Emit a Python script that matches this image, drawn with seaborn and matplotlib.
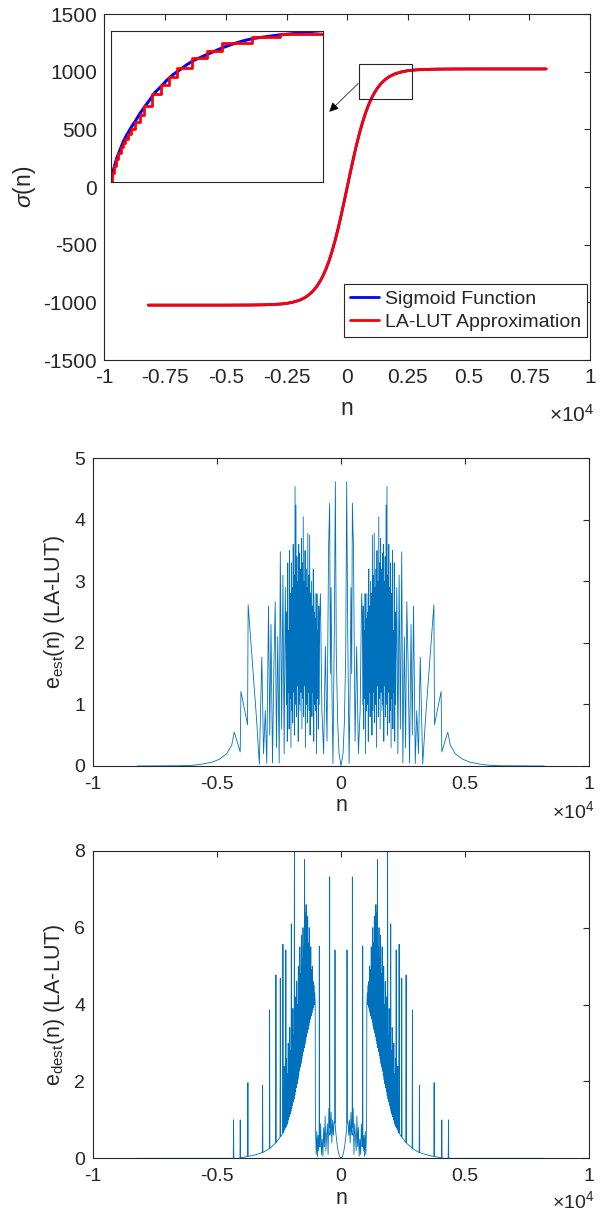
import numpy as np
import matplotlib
matplotlib.use("Agg")
import matplotlib.pyplot as plt
import matplotlib.patches as patches
from matplotlib.ticker import FuncFormatter
import seaborn as sns

# ---- panel 1: sigmoid and LA-LUT approximation ----
sig_n = [-8192, -6000, -5000, -4000, -3500, -3000, -2750, -2500, -2250, -2000,
         -1875, -1750, -1625, -1500, -1375, -1250, -1125, -1000, -875, -750,
         -625, -500, -375, -250, -125, 0, 125, 250, 375, 500, 625, 750, 875,
         1000, 1125, 1250, 1375, 1500, 1625, 1750, 1875, 2000, 2250, 2500,
         2750, 3000, 3500, 4000, 5000, 6000, 8192]
sig_v = [-1024, -1024, -1024, -1023, -1022, -1018, -1015, -1009, -999, -984,
         -973, -959, -942, -920, -893, -860, -819, -770, -710, -640,
         -557, -464, -359, -245, -124, 0, 124, 245, 359, 464, 557, 640, 710,
         770, 819, 860, 893, 920, 942, 959, 973, 984, 999, 1009,
         1015, 1018, 1022, 1023, 1024, 1024, 1024]
lut_v = [-1024, -1024, -1024, -1023, -1021, -1017, -1014, -1009, -999, -984,
         -973, -959, -942, -920, -893, -860, -819, -770, -710, -640,
         -557, -464, -359, -245, -124, 0, 124, 245, 359, 464, 557, 640, 710,
         770, 819, 860, 893, 920, 942, 959, 973, 984, 999, 1009,
         1014, 1017, 1021, 1023, 1024, 1024, 1024]

# inset: close-up of the upper knee
ins_n = [1000, 1031, 1071, 1110, 1149, 1189, 1248, 1299, 1346, 1405, 1464, 1523,
         1582, 1660, 1739, 1818, 1896, 1975, 2054, 2132, 2230, 2329, 2447, 2565,
         2682, 2840, 2997, 3154, 3311, 3500]
ins_sig = [770, 789, 809, 823, 837, 848, 862, 873, 884, 896, 907, 919,
           927, 939, 949, 957, 965, 972, 977, 982, 988, 994, 1000, 1005,
           1009, 1012, 1015, 1017, 1020, 1022]
ins_lut_n = [1000, 1018, 1040, 1063, 1090, 1118, 1145, 1169, 1200, 1236, 1287,
             1340, 1397, 1491, 1590, 1688, 1782, 1959, 2132, 2309, 2663, 2997, 3500]
ins_lut_v = [770, 784, 796, 808, 818, 827, 835, 842, 849, 858, 870,
             882, 896, 916, 931, 944, 959, 976, 988, 1002, 1012, 1017, 1017]

zoom_box_n = [496, 2679]
zoom_box_v = [760, 1064]
arrow_from = [455, 899]
arrow_to = [-739, 653]

# ---- panel 2: e_est, left half (the error is symmetric about n = 0) ----
est_tail_n = [-8192, -6500, -6000, -5600, -5200, -4900, -4600, -4400, -4300,
              -4060, -4030, -3765, -3740, -3400]
est_tail_e = [0.0, 0.003, 0.01, 0.03, 0.06, 0.11, 0.2, 0.34, 0.55,
              0.23, 1.21, 0.67, 2.62, 0.75]
est_spike_n = [-3290, -3190, -3120, -3050, -2990, -2920, -2870, -2820, -2760,
               -2700, -2650, -2600, -2550, -2490, -2445, -2390, -2340, -2290,
               -2245]
est_spike_e = [0.03, 1.77, 0.2, 0.9, 0.04, 2.6, 0.5, 2.3, 0.05,
               1.7, 2.67, 0.3, 2.1, 0.05, 3.48, 0.6, 3.1, 0.2,
               2.9]
est_blob_range = [-2200, -860]
est_blob_lo = [1.0, 0.4, 1.2, 0.6, 1.1, 0.3, 0.9, 0.7, 1.2, 0.5, 1.0, 0.8, 1.3,
               0.4, 1.0, 0.9, 1.2, 0.6, 1.1, 0.8, 1.3, 0.3, 1.0, 0.7, 1.2, 0.9,
               0.5, 1.1, 0.8, 1.2, 0.4, 1.0, 0.9, 0.2, 1.1, 0.6, 1.0]
est_blob_hi = [2.5, 3.3, 2.2, 3.5, 2.8, 3.3, 2.9, 3.6, 3.1, 4.54, 4.24, 3.4, 3.0,
               3.6, 3.46, 3.2, 3.7, 3.3, 4.05, 3.0, 3.5, 3.2, 2.9, 3.78, 3.1, 3.75,
               2.8, 3.0, 2.6, 3.2, 2.5, 2.8, 2.4, 2.8, 2.2, 2.6, 2.4]
est_mid_n = [-830, -770, -700, -630, -565, -500, -457, -430, -400, -365, -325,
             -270, -228, -190, -135, -80, 0]
est_mid_e = [2.8, 0.9, 0.2, 1.94, 0.4, 3.56, 4.27, 1.5, 2.9, 1.2, 0.04,
             2.2, 4.62, 1.83, 0.7, 0.2, 0.0]

# ---- panel 3: e_dest, left half ----
dest_tail_n = [-8192, -4340, -4328, -4316, -4071, -4059, -4047, -3762, -3750,
               -3738, -3400, -3170, -3158, -3146, -2888, -2876, -2864, -2633,
               -2621, -2609, -2458, -2446, -2434, -2351, -2339, -2327]
dest_tail_e = [0.0, 0.0, 1.0, 0.0, 0.0, 1.0, 0.01, 0.05, 1.97,
               0.05, 0.1, 0.15, 1.9, 0.15, 0.25, 3.86, 0.26, 0.4,
               4.77, 0.41, 0.55, 4.68, 0.56, 0.65, 5.57, 0.66]
dest_blob_range = [-2300, -1060]
dest_blob_lo = [0.70, 0.74, 0.79, 0.83, 0.88, 0.94, 1.01, 1.08, 1.15, 1.22,
                1.30, 1.38, 1.47, 1.55, 1.64, 1.73, 1.83, 1.94, 2.05, 2.16,
                2.27, 2.37, 2.47, 2.58, 2.68, 2.78, 2.87, 2.97, 3.06, 3.16,
                3.26, 3.35, 3.45, 3.54, 3.62, 3.70, 3.78, 3.86, 3.93, 4.00]
dest_blob_hi = [2.4, 1.9, 5.42, 2.6, 2.2, 3.0, 2.5, 3.4, 2.8, 6.1,
                3.3, 3.9, 3.2, 7.97, 4.2, 3.7, 4.6, 4.0, 5.0, 4.4,
                5.5, 4.8, 5.8, 5.2, 6.0, 5.5, 7.77, 6.4, 6.6, 5.9,
                6.3, 5.6, 6.0, 5.2, 5.5, 4.9, 5.0, 4.6, 4.5, 4.3]
dest_mid_n = [-1040, -1030, -1000, -975, -950, -925, -900, -882, -874, -866,
              -850, -820, -790, -760, -730, -700, -670, -640, -610, -580,
              -550, -520, -490, -465, -457, -449, -430, -400, -370, -340,
              -310, -280, -250, -242, -234, -200, -150, -100, -50, 0]
dest_mid_e = [4.05, 0.8, 0.1, 0.7, 0.05, 0.6, 0.2, 0.6, 5.52, 0.4,
              0.3, 0.9, 0.1, 0.5, 0.05, 0.8, 0.3, 1.1, 0.2, 0.6,
              0.9, 0.1, 1.3, 0.8, 7.32, 0.6, 0.7, 1.2, 0.4, 1.0,
              0.6, 0.95, 0.92, 5.42, 0.86, 0.6, 0.33, 0.14, 0.04, 0.0]

x1_ticks = [-10000, -7500, -5000, -2500, 0, 2500, 5000, 7500, 10000]
y1_ticks = [-1500, -1000, -500, 0, 500, 1000, 1500]
x23_ticks = [-10000, -5000, 0, 5000, 10000]
y2_ticks = [0, 1, 2, 3, 4, 5]
y3_ticks = [0, 2, 4, 6, 8]

BLUE = "#0072BD"
AX_COL = "#262626"


def build_half(tail_n, tail_e, spike_n, spike_e, blob_range, lo, hi, mid_n, mid_e):
    zig = np.column_stack([lo, hi]).ravel()
    blob_n = np.linspace(blob_range[0], blob_range[1], len(zig))
    n = np.concatenate([tail_n, spike_n, blob_n, mid_n]).astype(float)
    e = np.concatenate([tail_e, spike_e, zig, mid_e]).astype(float)
    # mirror to the right half
    return np.concatenate([n, -n[-2::-1]]), np.concatenate([e, e[-2::-1]])


def style(ax, fs, xpad=7, ypad=5.5):
    for s in ax.spines.values():
        s.set_visible(True)
        s.set_color(AX_COL)
        s.set_linewidth(0.8)
    ax.tick_params(direction="in", length=4, width=0.8, color=AX_COL,
                   labelcolor=AX_COL, top=True, right=True, labelsize=fs)
    ax.tick_params(axis="x", pad=xpad)
    ax.tick_params(axis="y", pad=ypad)
    ax.xaxis.set_major_formatter(FuncFormatter(lambda v, p: f"{v / 1e4:g}"))


sns.set_theme(style="white")
plt.rcParams["font.family"] = ["Liberation Sans", "DejaVu Sans"]
plt.rcParams["mathtext.fontset"] = "custom"
plt.rcParams["mathtext.rm"] = "Liberation Sans"
plt.rcParams["mathtext.it"] = "Liberation Sans:italic"
plt.rcParams["axes.unicode_minus"] = False

fig = plt.figure(figsize=(6.04, 12.11), dpi=100)
ax1 = fig.add_axes([0.1730, 0.7027, 0.8038, 0.2857])
ax2 = fig.add_axes([0.1535, 0.3675, 0.8222, 0.2541])
ax3 = fig.add_axes([0.1535, 0.0435, 0.8222, 0.2540])
axin = fig.add_axes([0.1833, 0.8500, 0.3510, 0.1247])

# panel 1
FS1, LB1 = 15, 16.5
sns.lineplot(x=sig_n, y=sig_v, ax=ax1, color="#0000FF", lw=2, sort=False,
             estimator=None, label="Sigmoid Function")
sns.lineplot(x=sig_n, y=lut_v, ax=ax1, color="#FF0000", lw=2, sort=False,
             estimator=None, label="LA-LUT Approximation")
ax1.set_xlim(-10000, 10000)
ax1.set_ylim(-1500, 1500)
ax1.set_xticks(x1_ticks)
ax1.set_yticks(y1_ticks)
style(ax1, FS1, xpad=6, ypad=5.5)
ax1.set_xlabel("n", fontsize=LB1, color=AX_COL)
ax1.set_ylabel(r"$\sigma$(n)", fontsize=LB1, color=AX_COL)
ax1.xaxis.set_label_coords(0.5, -0.108)
ax1.yaxis.set_label_coords(-0.137, 0.5)
ax1.text(1.01, -0.178, "×$10^{4}$", transform=ax1.transAxes, ha="right",
         va="baseline", fontsize=FS1, color=AX_COL)
leg = ax1.legend(loc="lower right", bbox_to_anchor=(0.994, 0.0665), fontsize=14,
                 frameon=True, fancybox=False, framealpha=1, edgecolor=AX_COL,
                 handlelength=1.5, handletextpad=0.3, borderpad=0.3,
                 labelspacing=0.3, borderaxespad=0)
leg.get_frame().set_linewidth(0.8)

ax1.add_patch(patches.Rectangle((zoom_box_n[0], zoom_box_v[0]),
                                zoom_box_n[1] - zoom_box_n[0],
                                zoom_box_v[1] - zoom_box_v[0],
                                fill=False, edgecolor=AX_COL, lw=0.8, zorder=5))
ax1.annotate("", xy=arrow_to, xytext=arrow_from,
             arrowprops=dict(arrowstyle="-|>", color="black", lw=0.5,
                             mutation_scale=14, shrinkA=0, shrinkB=0))

# inset
sns.lineplot(x=ins_n, y=ins_sig, ax=axin, color="#0000FF", lw=2.2, sort=False,
             estimator=None, legend=False)
sns.lineplot(x=ins_lut_n, y=ins_lut_v, ax=axin, color="#FF0000", lw=2, sort=False,
             estimator=None, legend=False, drawstyle="steps-post")
axin.set_xlim(1000, 3500)
axin.set_ylim(770, 1022)
axin.set_xticks([])
axin.set_yticks([])
axin.set_xlabel("")
axin.set_ylabel("")
for s in axin.spines.values():
    s.set_visible(True)
    s.set_color(AX_COL)
    s.set_linewidth(0.8)

# panels 2 and 3
FS, LB = 14, 15.5

est_n, est_e = build_half(est_tail_n, est_tail_e, est_spike_n, est_spike_e,
                          est_blob_range, est_blob_lo, est_blob_hi,
                          est_mid_n, est_mid_e)
sns.lineplot(x=est_n, y=est_e, ax=ax2, color=BLUE, lw=0.6, sort=False,
             estimator=None, legend=False)
ax2.set_xlim(-10000, 10000)
ax2.set_ylim(0, 5)
ax2.set_xticks(x23_ticks)
ax2.set_yticks(y2_ticks)
style(ax2, FS)
ax2.set_xlabel("n", fontsize=LB, color=AX_COL)
ax2.set_ylabel(r"e$_{\mathrm{est}}$(n) (LA-LUT)", fontsize=LB, color=AX_COL)
ax2.xaxis.set_label_coords(0.5, -0.095)
ax2.yaxis.set_label_coords(-0.052, 0.5)
ax2.text(1.01, -0.169, "×$10^{4}$", transform=ax2.transAxes, ha="right",
         va="baseline", fontsize=FS, color=AX_COL)

dest_n, dest_e = build_half(dest_tail_n, dest_tail_e, [], [],
                            dest_blob_range, dest_blob_lo, dest_blob_hi,
                            dest_mid_n, dest_mid_e)
sns.lineplot(x=dest_n, y=dest_e, ax=ax3, color=BLUE, lw=0.6, sort=False,
             estimator=None, legend=False)
ax3.set_xlim(-10000, 10000)
ax3.set_ylim(0, 8)
ax3.set_xticks(x23_ticks)
ax3.set_yticks(y3_ticks)
style(ax3, FS)
ax3.set_xlabel("n", fontsize=LB, color=AX_COL)
ax3.set_ylabel(r"e$_{\mathrm{dest}}$(n) (LA-LUT)", fontsize=LB, color=AX_COL)
ax3.xaxis.set_label_coords(0.5, -0.098)
ax3.yaxis.set_label_coords(-0.052, 0.5)
ax3.text(1.01, -0.162, "×$10^{4}$", transform=ax3.transAxes, ha="right",
         va="baseline", fontsize=FS, color=AX_COL)

fig.savefig("out.png", dpi=100)
